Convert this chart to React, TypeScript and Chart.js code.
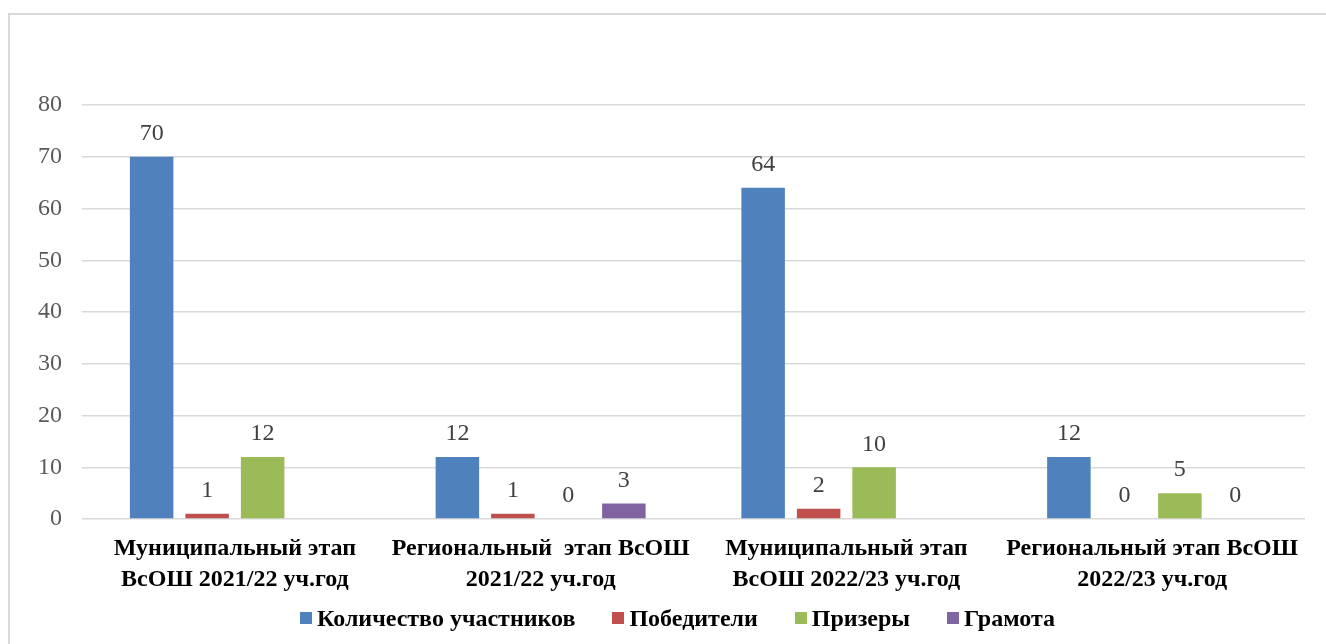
import React, { useEffect, useRef } from "react";
import { Chart, registerables } from "chart.js";

Chart.register(...registerables);

const categories: string[][] = [
  ["Муниципальный этап", "ВсОШ 2021/22 уч.год"],
  ["Региональный  этап ВсОШ", "2021/22 уч.год"],
  ["Муниципальный этап", "ВсОШ 2022/23 уч.год"],
  ["Региональный этап ВсОШ", "2022/23 уч.год"],
];

const seriesNames = ["Количество участников", "Победители", "Призеры", "Грамота"];
const participants: (number | null)[] = [70, 12, 64, 12];
const winners: (number | null)[] = [1, 1, 2, 0];
const prizewinners: (number | null)[] = [12, 0, 10, 5];
const certificates: (number | null)[] = [null, 3, null, 0];
const seriesColors = ["#4F81BD", "#C0504D", "#9BBB59", "#8064A2"];
const yTicks = [0, 10, 20, 30, 40, 50, 60, 70, 80];

const SERIF = "'Times New Roman', 'Liberation Serif', serif";

const valueLabels = {
  id: "valueLabels",
  afterDatasetsDraw(chart: any) {
    const ctx = chart.ctx;
    ctx.save();
    ctx.font = `24px ${SERIF}`;
    ctx.fillStyle = "#404040";
    ctx.textAlign = "center";
    ctx.textBaseline = "middle";
    chart.data.datasets.forEach((ds: any, di: number) => {
      const meta = chart.getDatasetMeta(di);
      meta.data.forEach((el: any, i: number) => {
        const v = ds.data[i];
        if (v === null || v === undefined) return;
        ctx.fillText(String(v), el.x, el.y - 23);
      });
    });
    ctx.restore();
  },
};

export default function App() {
  const ref = useRef<HTMLCanvasElement>(null);

  useEffect(() => {
    if (!ref.current) return;
    const allSeries = [participants, winners, prizewinners, certificates];
    const chart = new Chart(ref.current, {
      type: "bar",
      data: {
        labels: categories,
        datasets: allSeries.map((d, i) => ({
          label: seriesNames[i],
          data: d,
          backgroundColor: seriesColors[i],
          borderWidth: 0,
          categoryPercentage: 0.726,
          barPercentage: 0.784,
        })),
      },
      options: {
        animation: false,
        responsive: false,
        maintainAspectRatio: false,
        events: [],
        layout: { padding: { left: 0, right: 21, top: 105, bottom: 25 } },
        plugins: {
          legend: { display: false },
          tooltip: { enabled: false },
          title: { display: false },
        },
        scales: {
          x: {
            grid: { display: false, drawTicks: false },
            border: { display: false },
            ticks: {
              color: "#000000",
              padding: 14,
              maxRotation: 0,
              autoSkip: false,
              font: { family: SERIF, size: 24, weight: "bold", lineHeight: 1.3 },
            },
            afterFit(scale: any) {
              scale.height = 100;
            },
          },
          y: {
            min: 0,
            max: 80,
            afterBuildTicks(scale: any) {
              scale.ticks = yTicks.map((v) => ({ value: v }));
            },
            grid: { color: "#d9d9d9", lineWidth: 1.5, drawTicks: false },
            border: { display: false },
            ticks: {
              color: "#595959",
              padding: 20,
              font: { family: SERIF, size: 24 },
            },
            afterFit(scale: any) {
              scale.width = 82;
            },
          },
        },
      },
      plugins: [valueLabels],
    });
    return () => chart.destroy();
  }, []);

  return (
    <div style={{ position: "fixed", left: 0, top: 0, width: 1326, height: 644, overflow: "hidden", background: "#fff" }}>
      <div
        style={{
          position: "absolute",
          left: 8,
          top: 13,
          width: 1400,
          height: 700,
          border: "2px solid #d9d9d9",
          boxSizing: "border-box",
        }}
      />
      <canvas ref={ref} width={1326} height={644} style={{ position: "absolute", left: 0, top: 0, width: 1326, height: 644 }} />
      <div
        style={{
          position: "absolute",
          left: 0,
          width: 1355,
          top: 603,
          height: 30,
          display: "flex",
          justifyContent: "center",
          alignItems: "center",
          gap: 37,
          fontFamily: SERIF,
          fontWeight: "bold",
          fontSize: 24,
          color: "#000",
          whiteSpace: "pre",
        }}
      >
        {seriesNames.map((n, i) => (
          <div key={n} style={{ display: "flex", alignItems: "center", gap: 5 }}>
            <span style={{ display: "inline-block", width: 12, height: 12, background: seriesColors[i] }} />
            <span>{n}</span>
          </div>
        ))}
      </div>
    </div>
  );
}
